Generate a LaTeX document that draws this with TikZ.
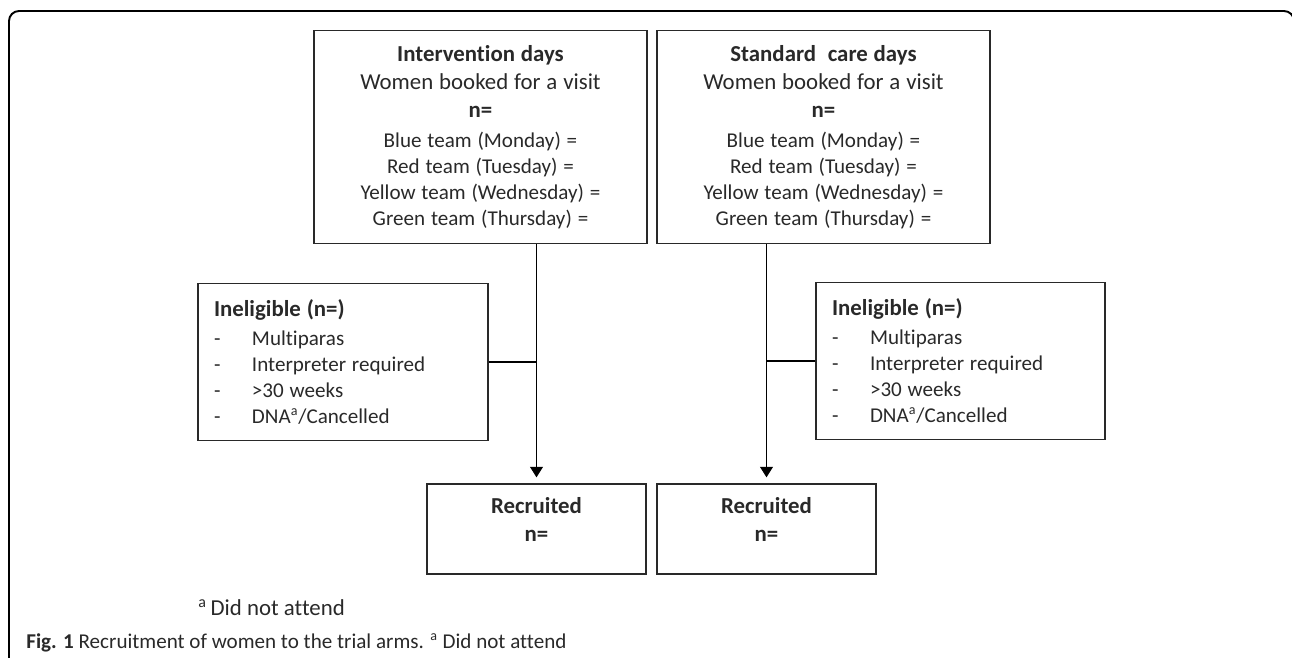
\documentclass[tikz,border=0pt]{standalone}
\usepackage{fontspec}
\setmainfont{Carlito}[Ligatures=NoCommon]
\usetikzlibrary{arrows.meta}

\definecolor{inkgray}{gray}{0.16}
\tikzset{
  flowbox/.style={draw=inkgray, line width=0.8pt, rectangle, text=inkgray, align=center, inner sep=0pt},
  sidebox/.style={draw=inkgray, line width=0.8pt, rectangle, text=inkgray, align=left, inner ysep=0pt, inner xsep=0.32cm},
  flowline/.style={draw=black, line width=0.6pt},
  flowarrow/.style={flowline, -{Triangle[width=7.4pt,length=6pt]}, shorten >=1.2mm},
  notetext/.style={text=inkgray, inner sep=0pt, anchor=base west}
}
\newcommand{\titlesize}{\fontsize{13}{15.9}\selectfont}
\newcommand{\listsize}{\fontsize{12}{14.75}\selectfont}
\newcommand{\dashitem}[1]{\makebox[0.76cm][l]{-}#1}

\begin{document}
\begin{tikzpicture}[x=0.02cm, y=-0.02cm]
            \useasboundingbox (0,0) rectangle (1292,657);

            % Draw the outer frame
            \draw[line width=1.1pt, rounded corners=0.2cm] (9,680) -- (9,11) -- (1294,11) -- (1294,680);

            % Women booked on each kind of day
            \node[flowbox, minimum width=6.66cm, minimum height=4.26cm, text width=6.66cm] (interv) at (480.5,137)
              {{\titlesize\textbf{Intervention days}\\ Women booked for a visit\\ \textbf{n=}\par}\vspace{2.3pt}
               {\listsize Blue team (Monday) =\\ Red team (Tuesday) =\\ Yellow team (Wednesday) =\\ Green team (Thursday) =\par}};
            \node[flowbox, minimum width=6.66cm, minimum height=4.26cm, text width=6.66cm] (standard) at (823.5,137)
              {{\titlesize\textbf{Standard\ \ care days}\\ Women booked for a visit\\ \textbf{n=}\par}\vspace{2.3pt}
               {\listsize Blue team (Monday) =\\ Red team (Tuesday) =\\ Yellow team (Wednesday) =\\ Green team (Thursday) =\par}};

            % Ineligible women, one box per arm
            \node[sidebox, minimum height=3.14cm, text width=5.16cm] (inelint) at (343,362)
              {{\titlesize\textbf{Ineligible (n=)}\par}\vspace{1.7pt}
               {\listsize\dashitem{Multiparas}\\ \dashitem{Interpreter required}\\ \dashitem{>30 weeks}\\ \dashitem{DNA\textsuperscript{a}/Cancelled}\par}};
            \node[sidebox, minimum height=3.14cm, text width=5.14cm] (inelstd) at (960.5,361)
              {{\titlesize\textbf{Ineligible (n=)}\par}\vspace{1.7pt}
               {\listsize\dashitem{Multiparas}\\ \dashitem{Interpreter required}\\ \dashitem{>30 weeks}\\ \dashitem{DNA\textsuperscript{a}/Cancelled}\par}};

            % Recruited women
            \node[flowbox, minimum width=4.38cm, minimum height=1.8cm, text width=4.38cm] (recint) at (536.5,529)
              {{\titlesize\textbf{Recruited}\\ \textbf{n=}\par}\vspace{0.38cm}};
            \node[flowbox, minimum width=4.38cm, minimum height=1.8cm, text width=4.38cm] (recstd) at (766.5,529)
              {{\titlesize\textbf{Recruited}\\ \textbf{n=}\par}\vspace{0.38cm}};

            % Connectors
            \draw[flowarrow] (interv.south -| recint.north) -- (recint.north);
            \draw[flowarrow] (standard.south -| recstd.north) -- (recstd.north);
            \draw[flowline] (inelint.east) -- (inelint.east -| recint.north);
            \draw[flowline] (inelstd.west) -- (inelstd.west -| recstd.north);

            % Footnote and caption
            \node[notetext, font=\fontsize{13}{15}\selectfont] (dnanote) at (198,615) {\textsuperscript{a}\,Did not attend};
            \node[notetext, font=\fontsize{12}{14}\selectfont] (figcaption) at (26,648)
              {\textbf{Fig. 1} Recruitment of women to the trial arms. \textsuperscript{a} Did not attend};
        \end{tikzpicture}
\end{document}
